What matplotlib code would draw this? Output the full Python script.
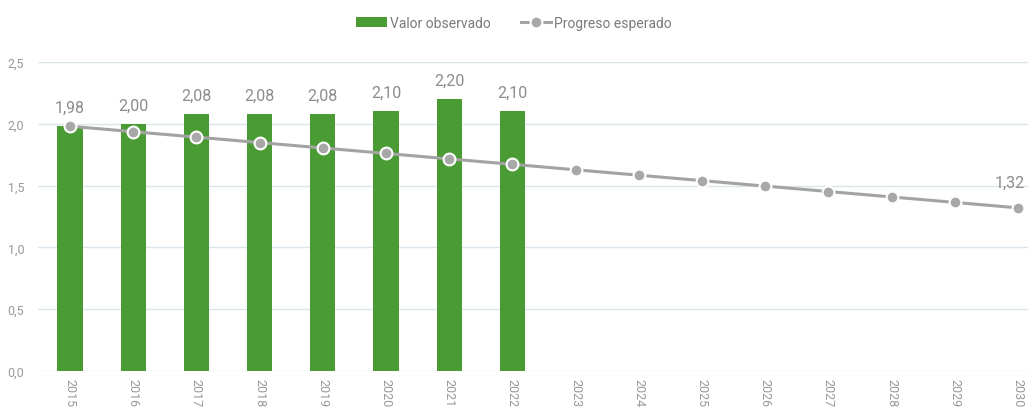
import matplotlib.pyplot as plt
from matplotlib import font_manager
import numpy as np

years = [str(y) for y in range(2015, 2031)]
observed = [1.98, 2.00, 2.08, 2.08, 2.08, 2.10, 2.20, 2.10]
expected = [1.98, 1.936, 1.892, 1.848, 1.804, 1.76, 1.716, 1.672,
            1.628, 1.584, 1.54, 1.496, 1.452, 1.408, 1.364, 1.32]
y_ticks = [0.0, 0.5, 1.0, 1.5, 2.0, 2.5]

names = {f.name for f in font_manager.fontManager.ttflist}
fam = 'Roboto' if 'Roboto' in names else 'DejaVu Sans'
plt.rcParams['font.family'] = [fam, 'DejaVu Sans']

green = '#4b9b35'
grey_line = '#a3a3a3'
txt = '#8c8c8c'

fig = plt.figure(figsize=(10.28, 4.10), dpi=100)
ax = fig.add_axes([0.037, 0.0927, 0.963, 0.7537])

x = np.arange(len(years))
xo = np.arange(len(observed))
bars = ax.bar(xo, observed, width=0.4, color=green, zorder=2, label='Valor observado')
line, = ax.plot(x, expected, color=grey_line, lw=2.2, marker='o', ms=8.5,
                markerfacecolor='#a8a8a8', markeredgecolor='white', markeredgewidth=1.5,
                zorder=3, label='Progreso esperado')

for i, v in enumerate(observed):
    ax.annotate(f'{v:.2f}'.replace('.', ','), (i, max(v, expected[i])),
                xytext=(0, 8), textcoords='offset points', ha='center',
                va='bottom', fontsize=11.5, color=txt)
# last target label, nudged left so it stays inside the figure
ax.annotate(f'{expected[-1]:.2f}'.replace('.', ','), (x[-1], expected[-1]),
            xytext=(-6, 13), textcoords='offset points', ha='center',
            va='bottom', fontsize=11.5, color=txt, annotation_clip=False)

ax.set_xlim(-0.506, 15.16)
ax.set_ylim(0, 2.5)
ax.set_yticks(y_ticks)
ax.set_yticklabels([f'{t:.1f}'.replace('.', ',') for t in y_ticks])
ax.set_xticks(x)
ax.set_xticklabels(years, rotation=270)
ax.tick_params(axis='both', length=0, labelsize=9, colors='#999999')
ax.tick_params(axis='x', pad=5)
ax.tick_params(axis='y', pad=10)
ax.yaxis.grid(True, color='#dbe5ec', lw=1)
ax.set_axisbelow(True)
for s in ax.spines.values():
    s.set_visible(False)

fig.legend([bars, line], ['Valor observado', 'Progreso esperado'],
           loc='upper center', bbox_to_anchor=(0.5, 0.99), ncol=2, frameon=False,
           fontsize=10, labelcolor='#7a7a7a', handlelength=2.2,
           columnspacing=2.2, handletextpad=0.2)

fig.savefig('out.png', dpi=100)
